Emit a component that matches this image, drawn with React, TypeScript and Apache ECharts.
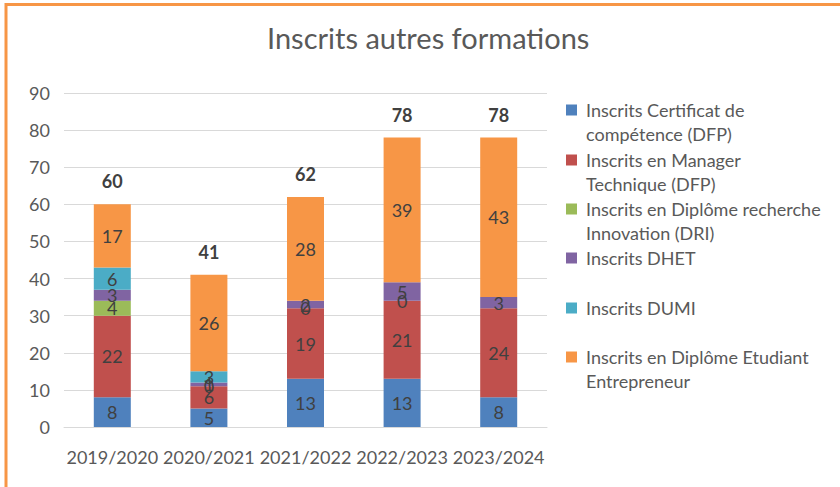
import React, { useEffect, useRef } from "react";
import * as echarts from "echarts";

const categories = ["2019/2020", "2020/2021", "2021/2022", "2022/2023", "2023/2024"];
const seriesNames = [
  "Inscrits Certificat de compétence (DFP)",
  "Inscrits en Manager Technique (DFP)",
  "Inscrits en Diplôme recherche Innovation (DRI)",
  "Inscrits DHET",
  "Inscrits DUMI",
  "Inscrits en Diplôme Etudiant Entrepreneur",
];
const legendFirstLines = [
  "Inscrits Certificat de",
  "Inscrits en Manager",
  "Inscrits en Diplôme recherche",
  "Inscrits DHET",
  "Inscrits DUMI",
  "Inscrits en Diplôme Etudiant",
];
const legendSecondLines = [
  "compétence (DFP)",
  "Technique (DFP)",
  "Innovation (DRI)",
  "",
  "",
  "Entrepreneur",
];
const certificat = [8, 5, 13, 13, 8];
const manager = [22, 6, 19, 21, 24];
const dri = [4, 0, 0, 0, null];
const dhet = [3, 1, 2, 5, 3];
const dumi = [6, 3, null, null, null];
const entrepreneur = [17, 26, 28, 39, 43];
const totals = [60, 41, 62, 78, 78];
const yTicks = [0, 10, 20, 30, 40, 50, 60, 70, 80, 90];

const colors = ["#4F81BD", "#C0504D", "#9BBB59", "#8064A2", "#4BACC6", "#F79646"];
const FONT = "Lato, 'Open Sans', sans-serif";

export default function App() {
  const ref = useRef<HTMLDivElement>(null);
  useEffect(() => {
    if (!ref.current) return;
    const chart = echarts.init(ref.current, null, { renderer: "svg" });
    const values = [certificat, manager, dri, dhet, dumi, entrepreneur];
    const barSeries = values.map((d, i) => ({
      name: seriesNames[i],
      type: "bar",
      stack: "total",
      barWidth: 37,
      data: d,
      itemStyle: { color: colors[i] },
      label: {
        show: true,
        position: "inside",
        color: "#404040",
        fontSize: 18,
        fontFamily: FONT,
      },
    }));
    const iconTops = [105, 155, 204, 253, 303, 352];
    const legends = seriesNames.map((n, i) => ({
      data: [n],
      left: 566,
      top: iconTops[i] - 4,
      orient: "vertical",
      itemWidth: 11,
      itemHeight: 11,
      itemGap: 0,
      padding: 0,
      icon: "rect",
      formatter: () => legendFirstLines[i],
      selectedMode: false,
      textStyle: {
        color: "#595959",
        fontSize: 18,
        fontFamily: FONT,
        padding: [0, 0, 0, 4],
      },
    }));
    const secondLines = legendSecondLines
      .map((t, i) => ({ t, i }))
      .filter((o) => o.t)
      .map((o) => ({
        type: "text",
        x: 586,
        y: iconTops[o.i] + 28.5,
        style: {
          text: o.t,
          fill: "#595959",
          fontSize: 18,
          fontFamily: FONT,
          textVerticalAlign: "middle",
          verticalAlign: "middle",
        },
      }));
    chart.setOption({
      animation: false,
      backgroundColor: "#ffffff",
      textStyle: { fontFamily: FONT },
      title: {
        text: "Inscrits autres formations",
        left: 262,
        top: 18,
        textStyle: { color: "#595959", fontSize: 29, fontWeight: "normal", fontFamily: FONT },
      },
      legend: legends,
      grid: { left: 64, right: 293, top: 93, bottom: 60, containLabel: false },
      xAxis: {
        type: "category",
        data: categories,
        axisLine: { lineStyle: { color: "#d9d9d9" } },
        axisTick: { show: false },
        axisLabel: { color: "#595959", fontSize: 18, fontFamily: FONT, margin: 21, interval: 0 },
      },
      yAxis: {
        type: "value",
        min: yTicks[0],
        max: yTicks[yTicks.length - 1],
        interval: 10,
        axisLine: { show: false },
        axisTick: { show: false },
        splitLine: { lineStyle: { color: "#d9d9d9" } },
        axisLabel: { color: "#595959", fontSize: 18, fontFamily: FONT, margin: 14 },
      },
      graphic: [
        { type: "line", shape: { x1: 6, y1: 4.5, x2: 840, y2: 4.5 }, style: { stroke: "#F79646", lineWidth: 3 } },
        { type: "line", shape: { x1: 6, y1: 3, x2: 6, y2: 487 }, style: { stroke: "#F79646", lineWidth: 3 } },
        ...secondLines,
      ],
      series: [
        ...barSeries,
        {
          name: "Total",
          type: "bar",
          stack: "total",
          barWidth: 37,
          data: totals.map(() => 0),
          itemStyle: { color: "transparent" },
          label: {
            show: true,
            position: "top",
            distance: 14,
            formatter: (p: any) => String(totals[p.dataIndex]),
            color: "#404040",
            fontSize: 18,
            fontWeight: "bold",
            fontFamily: FONT,
          },
        },
      ],
    });
    return () => chart.dispose();
  }, []);
  return (
    <div style={{ position: "fixed", left: 0, top: 0, width: 840, height: 487, background: "#fff" }}>
      <div ref={ref} style={{ width: 840, height: 487 }} />
    </div>
  );
}
